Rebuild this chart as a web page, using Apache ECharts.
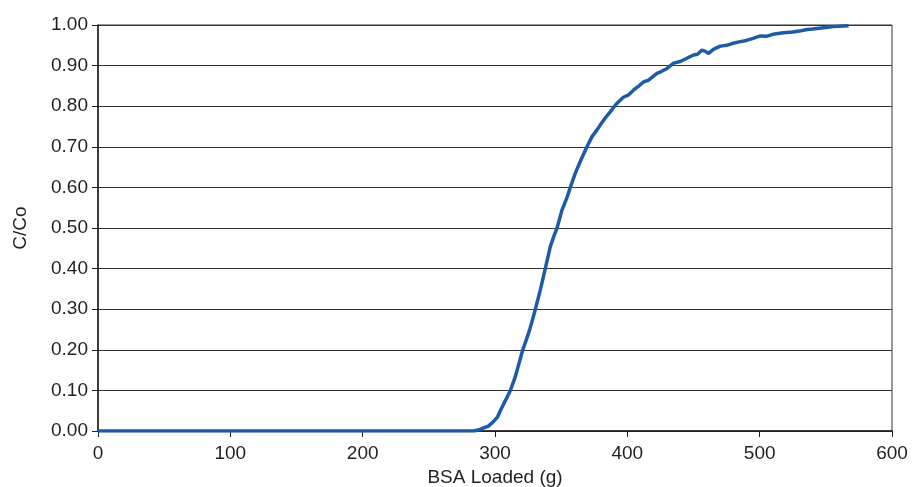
<!DOCTYPE html>
<html>
<head>
<meta charset="utf-8">
<script src="https://cdn.jsdelivr.net/npm/echarts@6/dist/echarts.min.js"></script>
<style>html,body{margin:0;padding:0;background:#fff}#c{width:915px;height:487px}</style>
</head>
<body>
<div id="c"></div>
<script>
const bsaLoaded = [0, 284, 288, 291, 295, 298.8, 302, 304, 308, 311.6, 315, 318, 321, 324, 326.2, 330.5, 334.2, 338, 341.8, 344.5, 346.9, 350.6, 354.3, 356.9, 360.7, 365, 369.5, 373.3, 377, 379.6, 383, 387.1, 391, 393.4, 397, 401, 404.8, 408, 412.3, 416, 419, 422.4, 426, 430, 435, 440, 445, 450, 453, 456.4, 459, 461.4, 465, 470.3, 475, 480, 485.4, 490, 495, 500.5, 505, 510, 518, 525, 530, 535.8, 540, 545, 550, 555.9, 560, 567.2];
const cOverCo = [0, 0, 0.003, 0.007, 0.012, 0.023, 0.035, 0.05, 0.076, 0.10, 0.13, 0.165, 0.20, 0.228, 0.249, 0.30, 0.347, 0.40, 0.454, 0.48, 0.50, 0.544, 0.574, 0.60, 0.635, 0.668, 0.70, 0.725, 0.741, 0.754, 0.77, 0.786, 0.803, 0.811, 0.822, 0.828, 0.84, 0.848, 0.860, 0.864, 0.872, 0.881, 0.886, 0.893, 0.906, 0.910, 0.918, 0.926, 0.928, 0.938, 0.935, 0.930, 0.940, 0.948, 0.950, 0.955, 0.959, 0.962, 0.967, 0.973, 0.972, 0.977, 0.981, 0.983, 0.985, 0.989, 0.990, 0.992, 0.994, 0.996, 0.997, 0.998];
const xAxisTitle = 'BSA Loaded (g)';
const yAxisTitle = 'C/Co';

const data = bsaLoaded.map((x, i) => [x, cOverCo[i]]);
const font = 'Liberation Sans, Arial, sans-serif';
const txt = '#231f20';
const chart = echarts.init(document.getElementById('c'));
chart.setOption({
  animation: false,
  grid: { left: 98, right: 23, top: 25, bottom: 56, containLabel: false, outerBoundsMode: 'none', show: true, borderColor: '#333', borderWidth: 1, backgroundColor: 'transparent' },
  xAxis: {
    type: 'value', min: 0, max: 600, interval: 100,
    name: xAxisTitle, nameLocation: 'middle', nameGap: 37,
    nameTextStyle: { fontFamily: font, fontSize: 19, color: txt },
    axisLine: { show: true, lineStyle: { color: '#231f20', width: 1.5 } },
    axisTick: { show: true, length: 6, lineStyle: { color: '#231f20' } },
    axisLabel: { fontFamily: font, fontSize: 19, color: txt, margin: 13 },
    splitLine: { show: false }
  },
  yAxis: {
    type: 'value', min: 0, max: 1, interval: 0.1,
    name: yAxisTitle, nameLocation: 'middle', nameGap: 68, nameRotate: 90,
    nameTextStyle: { fontFamily: font, fontSize: 19, color: txt },
    axisLine: { show: true, lineStyle: { color: '#231f20', width: 1.5 } },
    axisTick: { show: true, length: 6, lineStyle: { color: '#231f20' } },
    axisLabel: { fontFamily: font, fontSize: 19, color: txt, margin: 10, formatter: v => v.toFixed(2) },
    splitLine: { show: true, lineStyle: { color: '#333', width: 1 } }
  },
  series: [{
    type: 'line', data: data, showSymbol: false, symbol: 'none',
    lineStyle: { color: '#1d5ba6', width: 3.5 },
    z: 5
  }]
});
</script>
</body>
</html>
